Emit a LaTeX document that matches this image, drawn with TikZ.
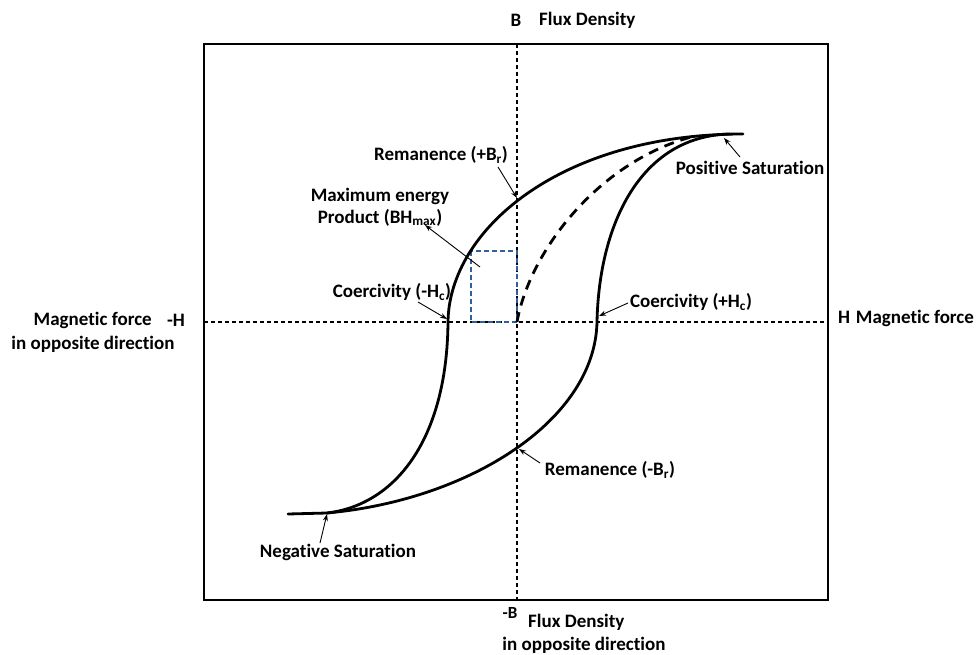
\documentclass[tikz,border=0pt]{standalone}
\usepackage{fontspec}
\setmainfont{Carlito}[Ligatures=NoCommon]
\usetikzlibrary{arrows.meta}
\definecolor{boxblue}{RGB}{46,95,160}
\begin{document}
\begin{tikzpicture}[x=1pt,y=-1pt,
  lbl/.style={font=\fontsize{19}{22}\selectfont\bfseries, inner sep=0pt},
  loop/.style={line width=2.8pt, line cap=round},
  axisline/.style={line width=1.1pt, dash pattern=on 4pt off 3pt},
  pointer/.style={line width=0.9pt, -{Stealth[length=7pt,width=5pt]}},
  frame/.style={line width=2.4pt}]
\useasboundingbox (0,0) rectangle (977,655);
\fill[white] (0,0) rectangle (977,655);
% frame
\draw[frame] (204,44) rectangle (828,600);
% axes
\coordinate (vtop) at (517,44);
\coordinate (vbot) at (517,600);
\coordinate (hl) at (204,322);
\coordinate (hr) at (828,322);
\draw[axisline] (vtop) -- (vbot);
\draw[axisline] (hl) -- (hr);
% BH max box
\draw[boxblue, line width=1.3pt, dash pattern=on 5pt off 3pt] (471,251) rectangle (517,322);
% loop: upper branch
\draw[loop] (288,514) -- (327,513)
  .. controls (395,505) and (447,440) .. (448,322)
  .. controls (449,230) and (560,134) .. (743,134);
% loop: lower branch
\draw[loop] (327,513)
  .. controls (470,500) and (595,420) .. (597,322)
  .. controls (599,225) and (640,136) .. (730,134);
% initial magnetisation (dashed)
\draw[line width=2.8pt, dash pattern=on 10pt off 7pt] (517,322) .. controls (530,250) and (600,160) .. (695,136);
% axis labels
\node[lbl] (B) at (516,20) {B};
\node[lbl, anchor=west] (fluxtop) at (539,20) {Flux Density};
\node[lbl, font=\fontsize{17}{20}\selectfont\bfseries] (mB) at (510,613) {-B};
\node[lbl, anchor=west] (fluxbot) at (528,622) {Flux Density};
\node[lbl] (oppbot) at (584,645) {in opposite direction};
\node[lbl, anchor=east] (magl) at (152,320) {Magnetic force};
\node[lbl] (mH) at (176,320) {-H};
\node[lbl] (oppl) at (93,344) {in opposite direction};
\node[lbl, anchor=west] (magr) at (838,318) {H\hspace{0.3em}Magnetic force};
% annotations
\node[lbl] (remp) at (441,155) {Remanence (+B\textsubscript{r})};
\node[lbl, align=center] (bhmax) at (380,207) {Maximum energy\\Product (BH\textsubscript{max})};
\node[lbl] (coerm) at (392,292) {Coercivity (-H\textsubscript{c})};
\node[lbl] (possat) at (750,168) {Positive Saturation};
\node[lbl] (coerp) at (691,302) {Coercivity (+H\textsubscript{c})};
\node[lbl] (remm) at (610,470) {Remanence (-B\textsubscript{r})};
\node[lbl] (negsat) at (338,552) {Negative Saturation};
% pointer ends
\coordinate (rempT) at (498,167); \coordinate (rempH) at (517,198);
\coordinate (bhT) at (480,267);   \coordinate (bhH) at (425,225);
\coordinate (cmT) at (418,302);   \coordinate (cmH) at (447,319);
\coordinate (psT) at (740,157);   \coordinate (psH) at (724,138);
\coordinate (cpT) at (628,303);   \coordinate (cpH) at (599,316);
\coordinate (rmT) at (540,463);   \coordinate (rmH) at (519,449);
\coordinate (nsT) at (320,543);   \coordinate (nsH) at (327,514);
\draw[pointer] (rempT) -- (rempH);
\draw[pointer] (bhT) -- (bhH);
\draw[pointer] (cmT) -- (cmH);
\draw[pointer] (psT) -- (psH);
\draw[pointer] (cpT) -- (cpH);
\draw[pointer] (rmT) -- (rmH);
\draw[pointer] (nsT) -- (nsH);
\end{tikzpicture}
\end{document}
